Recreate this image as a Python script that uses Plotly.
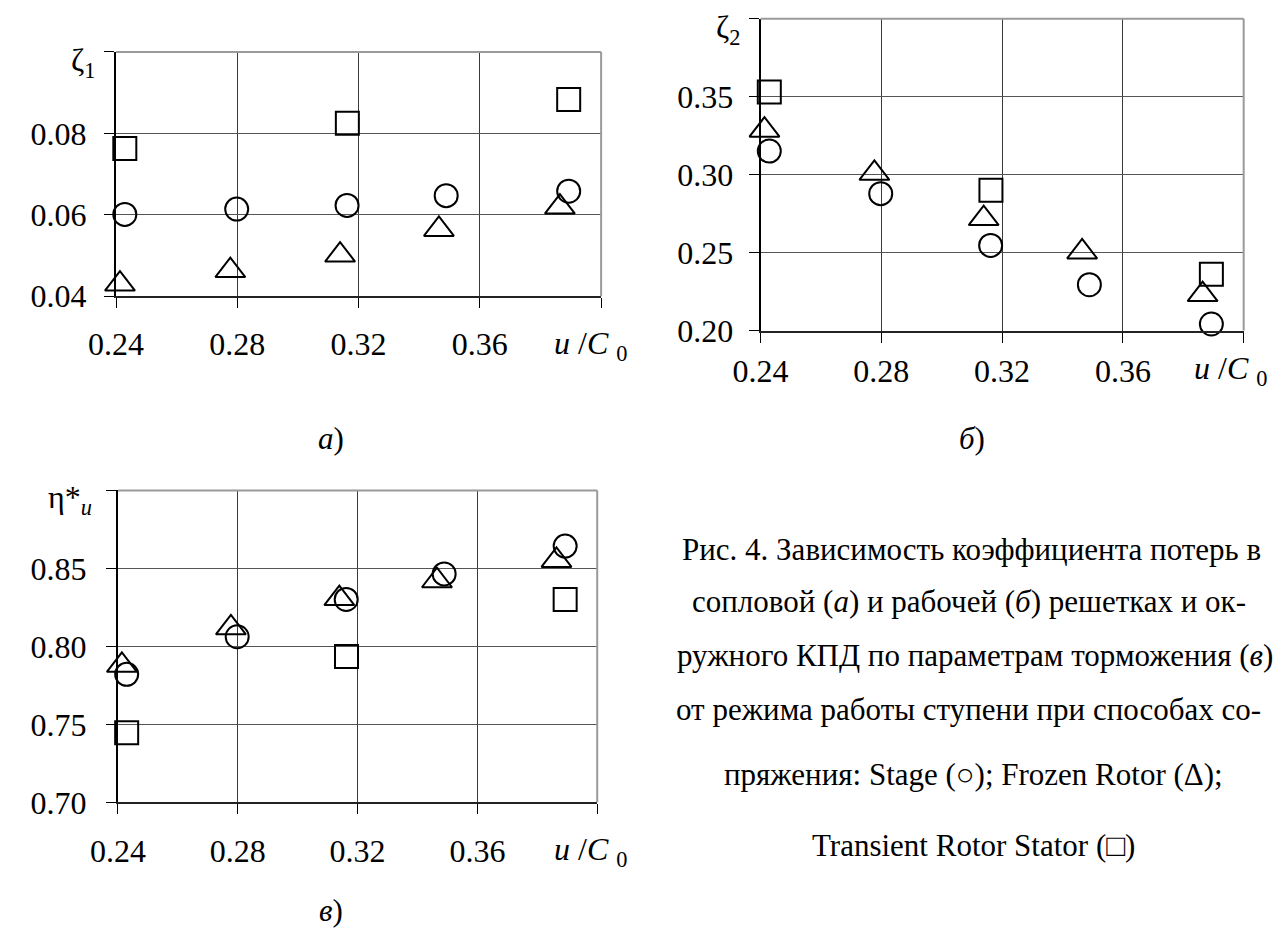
import plotly.graph_objects as go

# ---------------- data ----------------
x_stage = [0.2429, 0.2798, 0.3162, 0.3489, 0.3893]
x_frozen = [0.2413, 0.2777, 0.3139, 0.3465, 0.3864]
x_trs = [0.2429, 0.3163, 0.3893]

zeta1_stage = [0.0601, 0.0614, 0.0623, 0.0647, 0.0658]
zeta1_frozen = [0.0430, 0.0463, 0.0501, 0.0564, 0.0619]
zeta1_trs = [0.0763, 0.0825, 0.0883]

zeta2_stage = [0.3151, 0.2878, 0.2546, 0.2294, 0.2042]
zeta2_frozen = [0.3285, 0.3008, 0.2718, 0.2504, 0.2231]
zeta2_trs = [0.3529, 0.2899, 0.2361]

eta_stage = [0.7821, 0.8062, 0.8301, 0.8465, 0.8643]
eta_frozen = [0.7879, 0.8119, 0.8307, 0.8421, 0.8551]
eta_trs = [0.7447, 0.7936, 0.8301]

x_ticks = [0.24, 0.28, 0.32, 0.36]
x_end = [0.40]
zeta1_ticks = [0.04, 0.06, 0.08]
zeta1_end = [0.10]
zeta2_ticks = [0.20, 0.25, 0.30, 0.35]
zeta2_end = [0.40]
eta_ticks = [0.70, 0.75, 0.80, 0.85]
eta_end = [0.90]

caption_lines = [
    "Рис. 4. Зависимость коэффициента потерь в",
    "сопловой (<i>а</i>) и рабочей (<i>б</i>) решетках и ок-",
    "ружного КПД по параметрам торможения (<i>в</i>)",
    "от режима работы ступени при способах со-",
    "пряжения: Stage (○); Frozen Rotor (Δ);",
    "Transient Rotor Stator (□)",
]

# ---------------- layout helpers ----------------
W, H = 1274, 941
FONT = "Liberation Serif"


def fx(p):
    return p / W


def fy(p):
    return 1 - p / H


panels = [
    dict(xd=(90, 586), yd=(53, 302), yr=(0.04, 0.10), ytv=zeta1_ticks, yend=zeta1_end,
         ys=[zeta1_stage, zeta1_frozen, zeta1_trs], xstand=8, ystand=11,
         ylab="ζ<sub>1</sub>", ylab_pos=(56, 64), ulab_pos=(575, 352),
         plab="<i>а</i>)", plab_pos=(310, 447)),
    dict(xd=(749, 1243), yd=(19, 337), yr=(0.20, 0.40), ytv=zeta2_ticks, yend=zeta2_end,
         ys=[zeta2_stage, zeta2_frozen, zeta2_trs], xstand=1, ystand=9,
         ylab="ζ<sub>2</sub>", ylab_pos=(716, 30), ulab_pos=(1230, 378),
         plab="<i>б</i>)", plab_pos=(965, 447)),
    dict(xd=(92, 582), yd=(500, 818), yr=(0.70, 0.90), ytv=eta_ticks, yend=eta_end,
         ys=[eta_stage, eta_frozen, eta_trs], xstand=9, ystand=13,
         ylab="η*<sub><i>u</i></sub>", ylab_pos=(43, 509), ulab_pos=(575, 868),
         plab="<i>в</i>)", plab_pos=(310, 928)),
]

fig = go.Figure()
annotations = []
shapes = []
layout = {}

sym = [("circle-open", 23, x_stage), ("triangle-up-open", 26, x_frozen), ("square-open", 23, x_trs)]

for i, p in enumerate(panels, start=1):
    sfx = "" if i == 1 else str(i)
    xa, ya = "x" + sfx, "y" + sfx
    for (symbol, size, xs), ys in zip(sym, p["ys"]):
        fig.add_trace(go.Scatter(
            x=xs, y=ys, xaxis=xa, yaxis=ya, mode="markers", cliponaxis=False,
            marker=dict(symbol=symbol, size=size, color="black", line=dict(width=2, color="black")),
            showlegend=False, hoverinfo="skip"))
    layout["xaxis" + sfx] = dict(
        domain=[fx(p["xd"][0]), fx(p["xd"][1])], range=[0.24, 0.40], anchor=ya,
        tickmode="array", tickvals=x_ticks, ticktext=[f"{v:.2f}" for v in x_ticks],
        ticks="outside", ticklen=10, tickwidth=1, tickcolor="black",
        minor=dict(tickmode="array", tickvals=x_end, ticks="outside", ticklen=10,
                   tickwidth=1, tickcolor="black", showgrid=False),
        showgrid=True, gridcolor="#3a3a3a", gridwidth=1,
        showline=True, linecolor="#222", linewidth=2, zeroline=False,
        tickfont=dict(family=FONT, size=32, color="black"), ticklabelstandoff=p["xstand"],
        fixedrange=True)
    layout["yaxis" + sfx] = dict(
        domain=[fy(p["yd"][1]), fy(p["yd"][0])], range=list(p["yr"]), anchor=xa,
        tickmode="array", tickvals=p["ytv"], ticktext=[f"{v:.2f}" for v in p["ytv"]],
        ticks="outside", ticklen=10, tickwidth=1, tickcolor="black",
        minor=dict(tickmode="array", tickvals=p["yend"], ticks="outside", ticklen=10,
                   tickwidth=1, tickcolor="black", showgrid=False),
        showgrid=True, gridcolor="#555555", gridwidth=1,
        showline=True, linecolor="black", linewidth=2, zeroline=False,
        tickfont=dict(family=FONT, size=32, color="black"), ticklabelstandoff=p["ystand"],
        fixedrange=True)
    # lighter top and right frame edges
    shapes.append(dict(type="line", xref=xa + " domain", yref=ya + " domain",
                       x0=0, x1=1, y0=1, y1=1, line=dict(color="#9a9a9a", width=2), layer="above"))
    shapes.append(dict(type="line", xref=xa + " domain", yref=ya + " domain",
                       x0=1, x1=1, y0=0, y1=1, line=dict(color="#9a9a9a", width=2), layer="above"))
    annotations.append(dict(text=p["ylab"], x=fx(p["ylab_pos"][0]), y=fy(p["ylab_pos"][1]),
                            xref="paper", yref="paper", showarrow=False,
                            xanchor="center", yanchor="middle",
                            font=dict(family=FONT, size=32, color="black")))
    annotations.append(dict(text="<i>u</i> /<i>C</i> <sub>0</sub>", x=fx(p["ulab_pos"][0]),
                            y=fy(p["ulab_pos"][1]), xref="paper", yref="paper", showarrow=False,
                            xanchor="center", yanchor="middle",
                            font=dict(family=FONT, size=32, color="black")))
    annotations.append(dict(text=p["plab"], x=fx(p["plab_pos"][0]), y=fy(p["plab_pos"][1]),
                            xref="paper", yref="paper", showarrow=False,
                            xanchor="center", yanchor="middle",
                            font=dict(family=FONT, size=31, color="black")))

caption_y = [560, 613, 668, 723, 790, 862]
caption_x = [965, 962, 968, 962, 967, 967]
for txt, xx, yy in zip(caption_lines, caption_x, caption_y):
    annotations.append(dict(text=txt, x=fx(xx), y=fy(yy), xref="paper", yref="paper",
                            showarrow=False, xanchor="center", yanchor="middle",
                            font=dict(family=FONT, size=31, color="black")))

fig.update_layout(
    width=W, height=H, margin=dict(l=0, r=0, t=0, b=0),
    paper_bgcolor="white", plot_bgcolor="white",
    annotations=annotations, shapes=shapes, showlegend=False,
    **layout)

fig.write_html("out.html", config={"displayModeBar": False},
               post_script="document.body.style.margin='0';document.body.style.overflow='hidden';")
